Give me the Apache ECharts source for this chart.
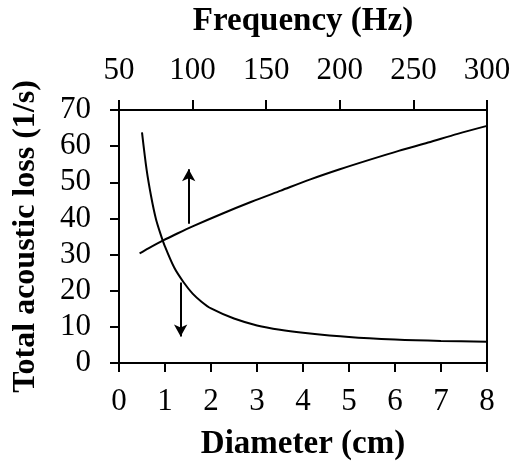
<!DOCTYPE html>
<html>
<head>
<meta charset="utf-8">
<script src="https://cdn.jsdelivr.net/npm/echarts@6/dist/echarts.min.js"></script>
<style>
    html, body { margin: 0; padding: 0; background: #fff; }
    #chart { width: 515px; height: 468px; }
</style>
</head>
<body>
<div id="chart"></div>
<script>
    // loss vs diameter (bottom axis)
    var diameters = [0.5, 0.6, 0.7, 0.8, 0.9, 1.0, 1.2, 1.4, 1.6, 1.8, 2.0, 2.5, 3.0, 3.5, 4.0, 5.0, 6.0, 7.0, 8.0];
    var lossByDiameter = [63.8, 53.5, 46.0, 40.0, 35.8, 32.2, 26.4, 22.4, 19.2, 16.9, 15.1, 12.3, 10.4, 9.2, 8.4, 7.2, 6.5, 6.1, 5.9];

    // loss vs frequency (top axis)
    var frequencies = [64, 70, 80, 90, 100, 120, 140, 160, 180, 200, 220, 240, 260, 280, 300];
    var lossByFrequency = [30.3, 31.7, 33.9, 35.9, 37.8, 41.3, 44.6, 47.7, 50.8, 53.6, 56.2, 58.7, 61.0, 63.4, 65.6];

    // arrows: [x (cm), from, to]
    var arrowUp = [1.515, 38.5, 53.6];
    var arrowDown = [1.34, 22.3, 7.3];

    var font = 'Liberation Serif';

    function pairs(xs, ys) {
        return xs.map(function (x, i) { return [x, ys[i]]; });
    }

    var chart = echarts.init(document.getElementById('chart'));
    chart.setOption({
        animation: false,
        grid: {
            left: 119, right: 28, top: 103, bottom: 105,
            show: true, borderColor: '#000', borderWidth: 2
        },
        xAxis: [
            {
                type: 'value', position: 'bottom',
                min: 0, max: 8, interval: 1,
                name: 'Diameter (cm)', nameLocation: 'middle', nameGap: 65,
                nameTextStyle: { fontFamily: font, fontWeight: 'bold', fontSize: 33, color: '#000' },
                axisLine: { show: true, lineStyle: { color: '#000', width: 2 } },
                axisTick: { show: true, inside: false, length: 9, lineStyle: { color: '#000', width: 2 } },
                axisLabel: { fontFamily: font, fontSize: 31, color: '#000', margin: 23 },
                splitLine: { show: false }
            },
            {
                type: 'value', position: 'top',
                min: 50, max: 300, interval: 50,
                name: 'Frequency (Hz)', nameLocation: 'middle', nameGap: 72,
                nameTextStyle: { fontFamily: font, fontWeight: 'bold', fontSize: 33, color: '#000' },
                axisLine: { show: true, lineStyle: { color: '#000', width: 2 } },
                axisTick: { show: true, inside: false, length: 10, lineStyle: { color: '#000', width: 2 } },
                axisLabel: { fontFamily: font, fontSize: 31, color: '#000', margin: 24 },
                splitLine: { show: false }
            }
        ],
        yAxis: {
            type: 'value',
            min: 0, max: 70, interval: 10,
            name: 'Total acoustic loss (1/s)', nameLocation: 'middle', nameGap: 77,
            nameTextStyle: { fontFamily: font, fontWeight: 'bold', fontSize: 32, color: '#000' },
            axisLine: { show: true, lineStyle: { color: '#000', width: 2 } },
            axisTick: { show: true, inside: false, length: 9, lineStyle: { color: '#000', width: 2 } },
            axisLabel: { fontFamily: font, fontSize: 31, color: '#000', margin: 28 },
            splitLine: { show: false }
        },
        series: [
            {
                type: 'line',
                xAxisIndex: 0,
                data: pairs(diameters, lossByDiameter),
                smooth: 0.3,
                showSymbol: false,
                lineStyle: { color: '#000', width: 2 },
                markLine: {
                    silent: true,
                    symbol: ['none', 'arrow'],
                    symbolSize: [10, 12],
                    label: { show: false },
                    lineStyle: { color: '#000', width: 2, type: 'solid' },
                    data: [
                        [{ coord: [arrowUp[0], arrowUp[1]] }, { coord: [arrowUp[0], arrowUp[2]] }],
                        [{ coord: [arrowDown[0], arrowDown[1]] }, { coord: [arrowDown[0], arrowDown[2]] }]
                    ]
                }
            },
            {
                type: 'line',
                xAxisIndex: 1,
                data: pairs(frequencies, lossByFrequency),
                smooth: 0.3,
                showSymbol: false,
                lineStyle: { color: '#000', width: 2 }
            }
        ]
    });
</script>
</body>
</html>
